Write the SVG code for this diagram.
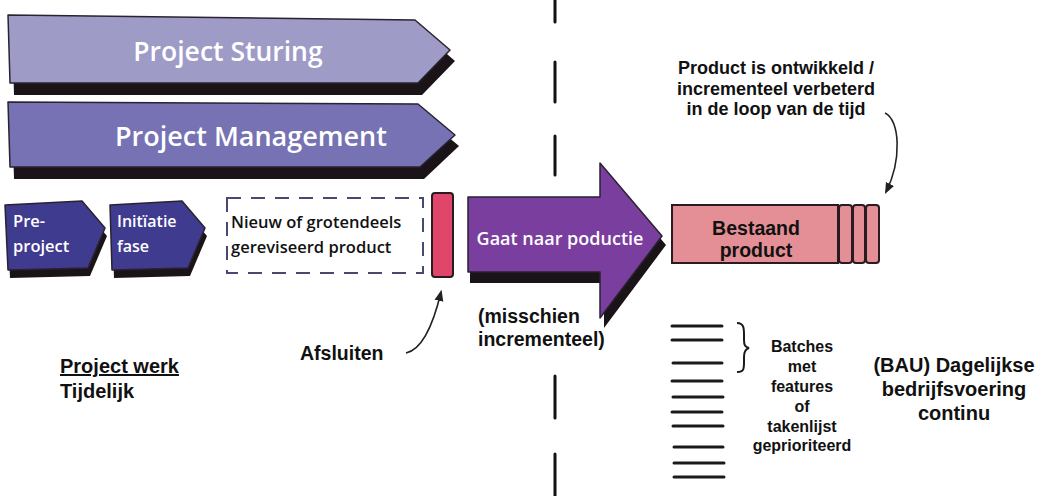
<svg xmlns="http://www.w3.org/2000/svg" width="1048" height="496" viewBox="0 0 1048 496">
<defs>
<style>
.t{font-family:"Open Sans","Liberation Sans",sans-serif;fill:#111;font-weight:600}
.tl{font-family:"Liberation Sans",Arial,sans-serif;fill:#111;font-weight:700}
.w{font-family:"Open Sans","Liberation Sans",sans-serif;fill:#fff;font-weight:600}
.sh{fill:#1a1418}
.ol{stroke:#2a2230;stroke-width:1.5;stroke-linejoin:round}
.ln{stroke:#1a1a1a;stroke-width:3;stroke-linecap:round;fill:none}
.dv{stroke:#111;stroke-width:3;stroke-linecap:round}
</style>
<marker id="ah" viewBox="0 0 10 10" refX="8" refY="5" markerWidth="7" markerHeight="7" orient="auto-start-reverse">
<path d="M0,1 L10,5 L0,9 z" fill="#222"/>
</marker>
</defs>
<rect width="1048" height="496" fill="#fff"/>

<g id="divider">
<line class="dv" x1="555" y1="0" x2="555" y2="22"/>
<line class="dv" x1="555" y1="62" x2="555" y2="102"/>
<line class="dv" x1="555" y1="136" x2="555" y2="175"/>
<line class="dv" x1="555" y1="376" x2="555" y2="418"/>
<line class="dv" x1="555" y1="454" x2="555" y2="496"/>
</g>

<g id="project-sturing">
<polygon class="sh" points="12,25 419,30 455,61 422,95 14,95"/>
<polygon class="ol" fill="#9f9bc7" points="8,15 415,20 450,50 418,83 10,83"/>
<text class="w" x="228" y="61" font-size="26.5" text-anchor="middle">Project Sturing</text>
</g>

<g id="project-management">
<polygon class="sh" points="12,113 422,115 459,146 424,179 14,179"/>
<polygon class="ol" fill="#7672b3" points="8,102 418,104 455,135 420,167 10,167"/>
<text class="w" x="251" y="146" font-size="27" text-anchor="middle">Project Management</text>
</g>

<g id="pre-project">
<polygon class="sh" points="7,213 84,209 107,236 90,276 10,278"/>
<polygon class="ol" fill="#3f3b8f" points="5,205 82,201 105,228 88,268 8,270"/>
<text class="w" x="13" y="227" font-size="16.5">Pre-</text>
<text class="w" x="13" y="252" font-size="16.5">project</text>
</g>

<g id="initiatie-fase">
<polygon class="sh" points="112,213 184,209 207,236 190,276 114,278"/>
<polygon class="ol" fill="#3f3b8f" points="110,205 182,201 205,228 188,268 112,270"/>
<text class="w" x="117" y="227" font-size="16">Initïatie</text>
<text class="w" x="117" y="252" font-size="16">fase</text>
</g>

<g id="nieuw-product">
<rect x="227" y="198" width="196" height="75" fill="none" stroke="#4a4870" stroke-width="2" stroke-dasharray="14,10"/>
<text class="t" x="231" y="228" font-size="16.5">Nieuw of grotendeels</text>
<text class="t" x="231" y="253" font-size="16.5">gereviseerd product</text>
</g>

<g id="afsluiten-bar">
<rect x="432" y="193" width="21" height="84" rx="3" fill="#e0466a" stroke="#2a1a22" stroke-width="2"/>
</g>

<g id="productie-arrow">
<polygon class="sh" points="470,206 604,206 604,172 666,245 604,328 604,283 470,283"/>
<polygon class="ol" fill="#7a3e9e" points="468,197 600,197 600,163 662,236 600,318 600,272 468,272"/>
<text class="w" x="560" y="245" font-size="18" text-anchor="middle">Gaat naar poductie</text>
</g>

<g id="bestaand-product">
<rect x="672" y="205" width="166" height="58" fill="#e38f95" stroke="#2a1a22" stroke-width="2"/>
<rect x="839" y="205" width="13" height="58" rx="3" fill="#e38f95" stroke="#2a1a22" stroke-width="2"/>
<rect x="853" y="205" width="12" height="58" rx="3" fill="#e38f95" stroke="#2a1a22" stroke-width="2"/>
<rect x="866" y="205" width="13" height="58" rx="3" fill="#e38f95" stroke="#2a1a22" stroke-width="2"/>
<text class="tl" x="756" y="235" font-size="19.5" text-anchor="middle">Bestaand</text>
<text class="tl" x="756" y="257" font-size="19.5" text-anchor="middle">product</text>
</g>

<g id="labels">
<text class="tl" x="776" y="74" font-size="18" text-anchor="middle">Product is ontwikkeld /</text>
<text class="tl" x="776" y="94.5" font-size="18" text-anchor="middle">incrementeel verbeterd</text>
<text class="tl" x="776" y="115" font-size="18" text-anchor="middle">in de loop van de tijd</text>
<text class="tl" x="478" y="323" font-size="19.5">(misschien</text>
<text class="tl" x="478" y="346" font-size="19.5">incrementeel)</text>
<text class="tl" x="300" y="360" font-size="19.5">Afsluiten</text>
<text class="tl" x="60" y="373" font-size="20" text-decoration="underline">Project werk</text>
<text class="tl" x="60" y="398" font-size="20">Tijdelijk</text>
<g font-size="16" text-anchor="middle">
<text class="tl" x="802" y="352">Batches</text>
<text class="tl" x="802" y="372">met</text>
<text class="tl" x="802" y="392">features</text>
<text class="tl" x="802" y="412">of</text>
<text class="tl" x="802" y="432">takenlijst</text>
<text class="tl" x="802" y="451">geprioriteerd</text>
</g>
<text class="tl" x="954" y="372" font-size="20" text-anchor="middle">(BAU) Dagelijkse</text>
<text class="tl" x="954" y="396" font-size="20" text-anchor="middle">bedrijfsvoering</text>
<text class="tl" x="954" y="420" font-size="20" text-anchor="middle">continu</text>
</g>

<g id="connectors">
<path d="M406,353 C420,350 432,330 441,292" fill="none" stroke="#222" stroke-width="1.6" marker-end="url(#ah)"/>
<path d="M885,113 C900,120 902,160 886,192" fill="none" stroke="#222" stroke-width="1.6" marker-end="url(#ah)"/>
<path d="M737,323 C745,323 744,330 744,340 C744,345 745,347 749,348 C745,349 744,352 744,357 C744,368 745,372 737,372" fill="none" stroke="#1a1a1a" stroke-width="2"/>
</g>

<g id="batches">
<line class="ln" x1="672" y1="326" x2="722" y2="326"/>
<line class="ln" x1="672" y1="340" x2="722" y2="340"/>
<line class="ln" x1="673" y1="363" x2="722" y2="363"/>
<line class="ln" x1="672" y1="381" x2="722" y2="381"/>
<line class="ln" x1="673" y1="397" x2="723" y2="397"/>
<line class="ln" x1="672" y1="412" x2="722" y2="412"/>
<line class="ln" x1="673" y1="426" x2="723" y2="426"/>
<line class="ln" x1="674" y1="447" x2="723" y2="447"/>
<line class="ln" x1="674" y1="463" x2="724" y2="463"/>
<line class="ln" x1="674" y1="477" x2="724" y2="477"/>
</g>
</svg>
